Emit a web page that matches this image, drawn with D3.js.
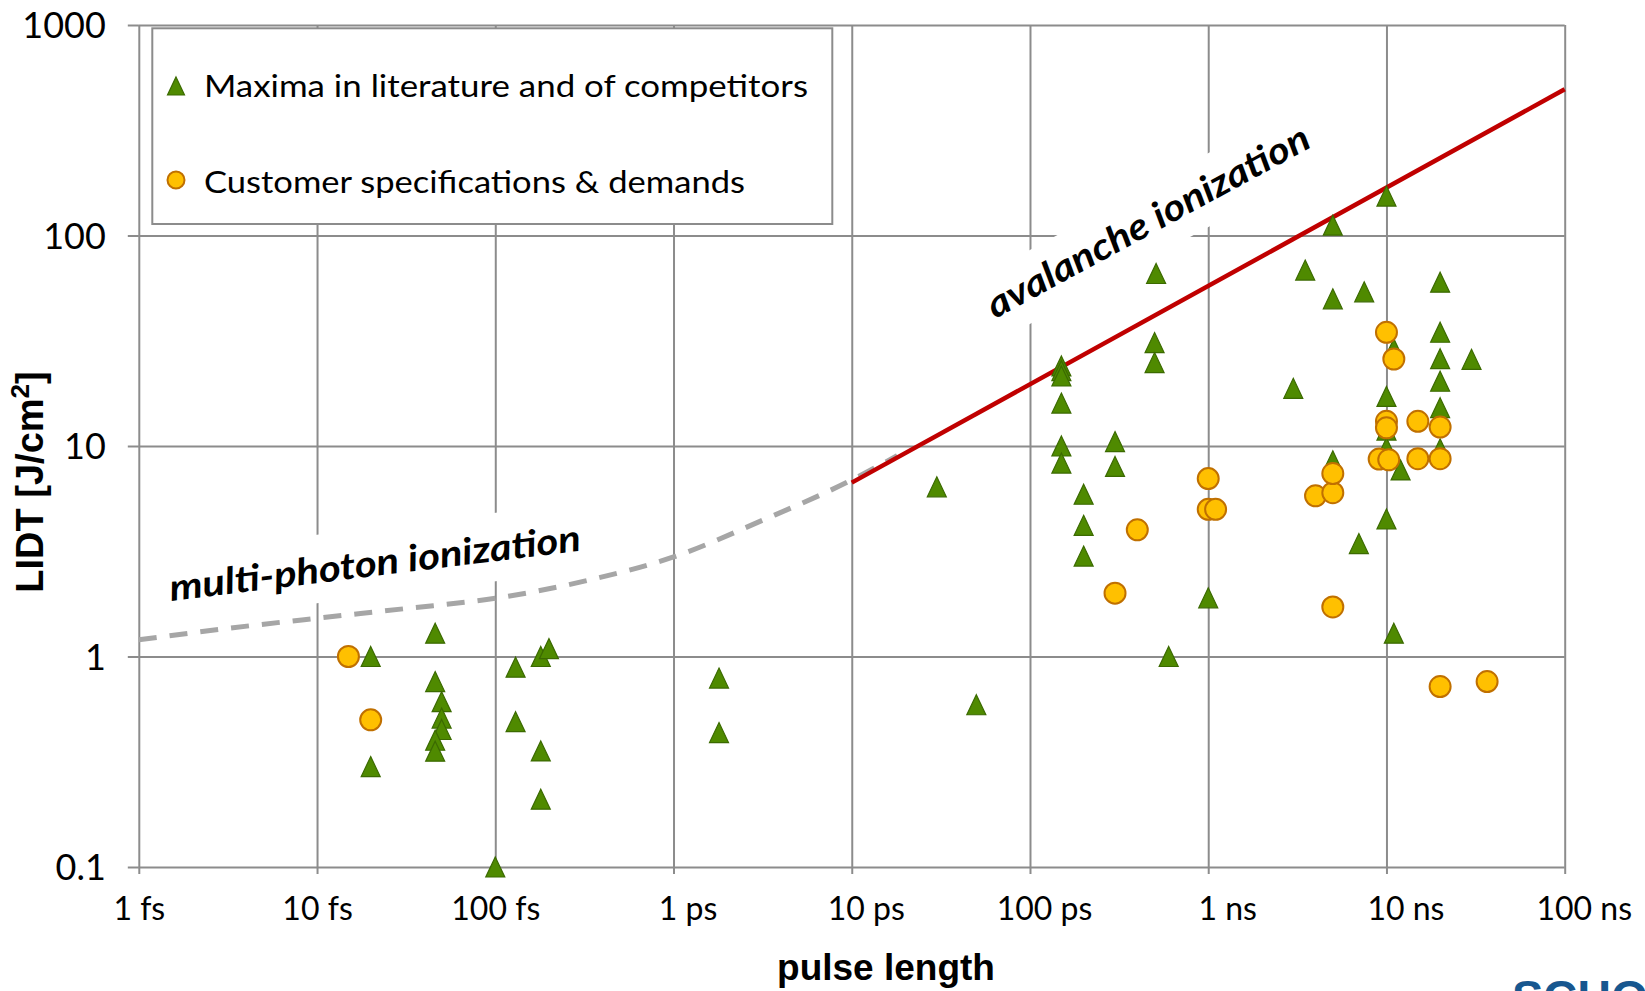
<!DOCTYPE html>
<html>
<head>
<meta charset="utf-8">
<script src="https://cdn.jsdelivr.net/npm/d3@7"></script>
<style>
	body { margin: 0; background: #fff; }
	svg { display: block; }
</style>
</head>
<body>
<svg id="chart" width="1645" height="991"></svg>
<script>

// pulse length in fs, LIDT in J/cm2
var xTicks = [1, 10, 100, 1e3, 1e4, 1e5, 1e6, 1e7, 1e8];
var xTickLabels = ["1 fs", "10 fs", "100 fs", "1 ps", "10 ps", "100 ps", "1 ns", "10 ns", "100 ns"];
var yTicks = [0.1, 1, 10, 100, 1000];
var yTickLabels = ["0.1", "1", "10", "100", "1000"];

var seriesNames = ["Maxima in literature and of competitors", "Customer specifications & demands"];

var maximaPulse = [20, 20, 46, 46, 50, 50, 50, 46, 46, 100, 130, 130, 180, 200, 180, 180, 1800, 1800,
	3e4, 5e4, 1.5e5, 1.5e5, 1.5e5, 1.5e5, 1.5e5, 1.5e5, 2e5, 2e5, 2e5, 3e5, 3e5,
	5.1e5, 5e5, 5e5, 6e5, 1e6, 3e6, 3.5e6, 5e6, 5e6, 5e6, 7e6, 7.5e6,
	1e7, 1e7, 1e7, 1e7, 1e7, 1.1e7, 1.1e7, 1.2e7, 2e7, 2e7, 2e7, 2e7, 2e7, 2e7, 3e7];
var maximaLidt = [1.0, 0.30, 1.29, 0.76, 0.61, 0.51, 0.45, 0.40, 0.355, 0.1, 0.89, 0.49, 1.0, 1.09, 0.356, 0.21, 0.79, 0.435,
	6.4, 0.59, 24, 22.8, 21.5, 16, 10, 8.3, 5.9, 4.2, 3.0, 10.5, 8.0,
	66, 31, 24.9, 1.0, 1.9, 18.8, 68.5, 112, 50, 8.5, 3.44, 54,
	154, 17.2, 11.9, 9.8, 4.5, 29, 1.29, 7.7, 60, 34.7, 26, 20.3, 15.2, 9.7, 25.8];

var customerPulse = [15, 20, 3e5, 4e5, 1e6, 1e6, 1.1e6, 4e6, 5e6, 5e6, 5e6,
	9.1e6, 1.03e7, 1e7, 1.1e7, 1e7, 1e7, 1.5e7, 1.5e7, 2e7, 2e7, 2e7, 3.67e7];
var customerLidt = [1.0, 0.5, 2.0, 4.0, 7.0, 5.0, 5.0, 5.8, 6.0, 7.4, 1.72,
	8.67, 8.6, 34.7, 25.9, 13.1, 12.2, 13.1, 8.7, 12.3, 8.7, 0.72, 0.76];

// guide lines
var avalanchePulse = [1e4, 1e8];
var avalancheLidt = [6.7, 495];
var multiPhotonPulse = [1, 3.16, 10, 31.6, 100, 316, 1000, 3162, 1e4, 1.8e4];
var multiPhotonLidt = [1.2, 1.36, 1.52, 1.69, 1.89, 2.28, 2.97, 4.44, 6.9, 9.0];

var svg = d3.select("#chart");

// plot box (not "top": that one belongs to window)
var plotL = 138.8, plotR = 1564.7, plotT = 25, plotB = 867;
var gridColor = "#8c8c8c";

var x = d3.scaleLog().domain([1, 1e8]).range([plotL, plotR]);
var y = d3.scaleLog().domain([0.1, 1000]).range([plotB, plotT]);

//gridlines
var gx = svg.append("g")
	.attr("transform", "translate(0," + plotB + ")")
	.call(d3.axisBottom(x).tickValues(xTicks).tickSize(-(plotB - plotT)).tickFormat(""));
var gy = svg.append("g")
	.attr("transform", "translate(" + plotL + ",0)")
	.call(d3.axisLeft(y).tickValues(yTicks).tickSize(-(plotR - plotL)).tickFormat(""));
[gx, gy].forEach(function(g){
	g.select(".domain").remove();
	g.selectAll("line").attr("stroke", gridColor).attr("stroke-width", 2);
});

//ticks and labels
var unitShift = { fs: 0, ps: 14, ns: 19 };
var xAxis = svg.append("g")
	.attr("transform", "translate(0," + plotB + ")")
	.call(d3.axisBottom(x).tickValues(xTicks).tickSize(7).tickFormat(function(d, i){ return xTickLabels[i]; }));
xAxis.select(".domain").remove();
xAxis.selectAll("line").attr("stroke", gridColor).attr("stroke-width", 2);
xAxis.attr("font-family", "Lato").attr("font-size", 32);
xAxis.selectAll("text")
	.attr("y", 53).attr("dy", null).attr("fill", "#000")
	.attr("dx", function(d, i){ return unitShift[xTickLabels[i].split(" ")[1]]; });

var yAxis = svg.append("g")
	.attr("transform", "translate(" + plotL + ",0)")
	.call(d3.axisLeft(y).tickValues(yTicks).tickSize(11).tickFormat(function(d, i){ return yTickLabels[i]; }));
yAxis.select(".domain").remove();
yAxis.selectAll("line").attr("stroke", gridColor).attr("stroke-width", 2);
yAxis.attr("font-family", "Lato").attr("font-size", 36);
yAxis.selectAll("text").attr("x", -33).attr("dy", "0.36em").attr("fill", "#000");

//axis titles
svg.append("text")
	.attr("x", 886).attr("y", 980)
	.attr("text-anchor", "middle")
	.attr("font-family", "Liberation Sans, Arial, sans-serif")
	.attr("font-weight", "bold").attr("font-size", 37)
	.text("pulse length");

var yTitle = svg.append("text")
	.attr("transform", "translate(43,482) rotate(-90)")
	.attr("text-anchor", "middle")
	.attr("font-family", "Liberation Sans, Arial, sans-serif")
	.attr("font-weight", "bold").attr("font-size", 38);
yTitle.append("tspan").text("LIDT [J/cm");
yTitle.append("tspan").attr("font-size", 26).attr("dy", -14).text("2");
yTitle.append("tspan").attr("dy", 14).text("]");

//legend
var legend = svg.append("g");
legend.append("rect")
	.attr("x", 152.3).attr("y", 28.3).attr("width", 680).attr("height", 195.7)
	.attr("fill", "#fff").attr("stroke", gridColor).attr("stroke-width", 2);

function triPath(w, h){
	return "M0," + (-h / 2) + "L" + (w / 2) + "," + (h / 2) + "L" + (-w / 2) + "," + (h / 2) + "Z";
}
var triFill = "#4f8a00", triStroke = "#3b6a00";
var dotFill = "#ffc000", dotStroke = "#c07000";

legend.append("path").attr("d", triPath(17, 18)).attr("transform", "translate(176,86)")
	.attr("fill", triFill).attr("stroke", triStroke).attr("stroke-width", 1.2);
legend.append("circle").attr("cx", 176).attr("cy", 180).attr("r", 8.5)
	.attr("fill", dotFill).attr("stroke", dotStroke).attr("stroke-width", 2);
legend.selectAll("text.lg").data(seriesNames).enter().append("text")
	.attr("class", "lg")
	.attr("x", 204).attr("y", function(d, i){ return i ? 193 : 97; })
	.attr("font-family", "Lato").attr("font-size", 31)
	.attr("textLength", function(d, i){ return i ? 541 : 604; })
	.attr("lengthAdjust", "spacingAndGlyphs")
	.text(function(d){ return d; });

//annotation labels, white box behind them hides the grid
var notes = [
	{ text: "multi-photon ionization", tx: 171, ty: 601, angle: -7, len: 414, boxTop: -48, h: 68 },
	{ text: "avalanche ionization", tx: 995, ty: 319, angle: -28.5, len: 362, boxTop: -44, h: 65 }
];
var noteBoxes = svg.append("g");
noteBoxes.selectAll("rect").data(notes).enter().append("rect")
	.attr("transform", function(d){ return "translate(" + d.tx + "," + d.ty + ") rotate(" + d.angle + ")"; })
	.attr("x", -14).attr("y", function(d){ return d.boxTop; })
	.attr("width", function(d){ return d.len + 28; })
	.attr("height", function(d){ return d.h; })
	.attr("fill", "#fff");

//multi-photon curve
var line = d3.line()
	.x(function(d){ return x(d[0]); })
	.y(function(d){ return y(d[1]); });

svg.append("path")
	.datum(d3.zip(multiPhotonPulse, multiPhotonLidt))
	.attr("d", line.curve(d3.curveMonotoneX))
	.attr("fill", "none")
	.attr("stroke", "#a6a6a6").attr("stroke-width", 5)
	.attr("stroke-dasharray", "18 13");

//avalanche line
svg.append("path")
	.datum(d3.zip(avalanchePulse, avalancheLidt))
	.attr("d", line.curve(d3.curveLinear))
	.attr("fill", "none")
	.attr("stroke", "#c00000").attr("stroke-width", 4.5);

//data points
svg.append("g").selectAll("path")
	.data(d3.zip(maximaPulse, maximaLidt))
	.enter().append("path")
	.attr("d", triPath(19, 20))
	.attr("transform", function(d){ return "translate(" + x(d[0]) + "," + y(d[1]) + ")"; })
	.attr("fill", triFill).attr("stroke", triStroke).attr("stroke-width", 1.2);

svg.append("g").selectAll("circle")
	.data(d3.zip(customerPulse, customerLidt))
	.enter().append("circle")
	.attr("cx", function(d){ return x(d[0]); })
	.attr("cy", function(d){ return y(d[1]); })
	.attr("r", 10.5)
	.attr("fill", dotFill).attr("stroke", dotStroke).attr("stroke-width", 2);

svg.append("g").selectAll("text").data(notes).enter().append("text")
	.attr("transform", function(d){ return "translate(" + d.tx + "," + d.ty + ") rotate(" + d.angle + ")"; })
	.attr("font-family", "Lato").attr("font-weight", "bold").attr("font-style", "italic")
	.attr("font-size", 37)
	.attr("textLength", function(d){ return d.len; })
	.attr("lengthAdjust", "spacingAndGlyphs")
	.text(function(d){ return d.text; });

//logo, cut off by the bottom edge
svg.append("text")
	.attr("x", 1512).attr("y", 1013)
	.attr("font-family", "Liberation Sans, Arial, sans-serif")
	.attr("font-weight", "bold").attr("font-size", 47)
	.attr("fill", "#17578f")
	.text("SCHOTT");

</script>
</body>
</html>
